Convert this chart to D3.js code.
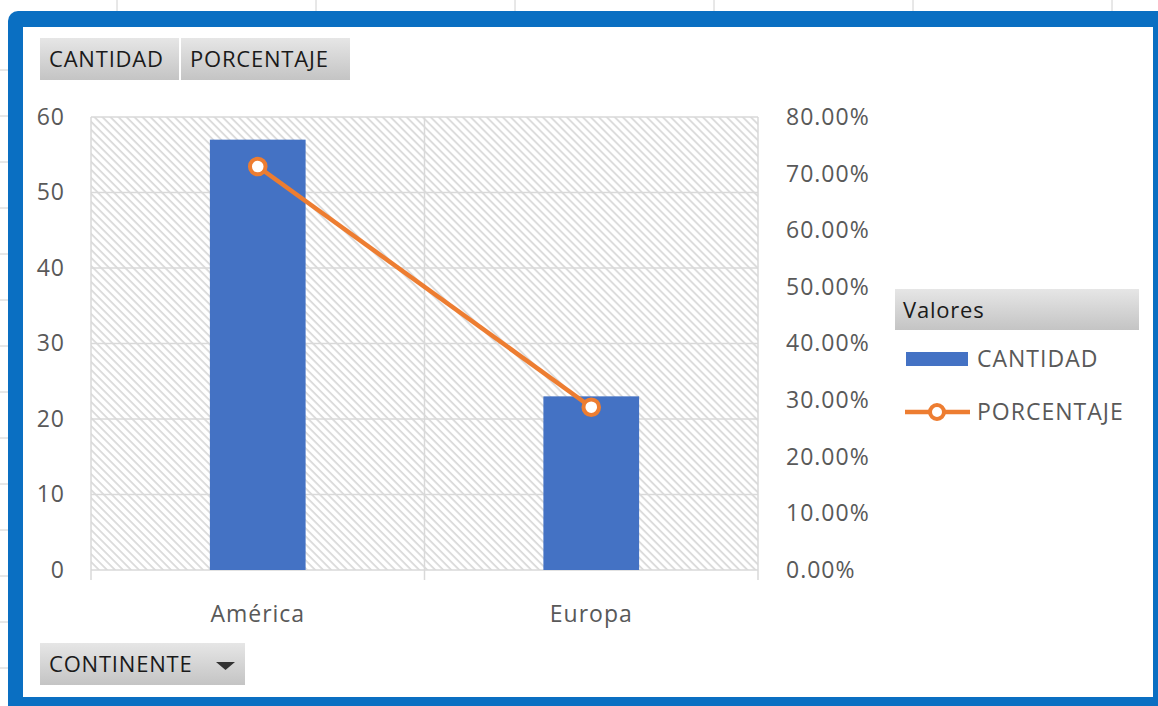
<!DOCTYPE html>
<html>
<head>
<meta charset="utf-8">
<script src="https://cdn.jsdelivr.net/npm/d3@7"></script>
<style>
  body { margin: 0; background: #fff; }
  svg { display: block; }
  text { font-family: "Segoe UI", "Open Sans", "Noto Sans", sans-serif; }
</style>
</head>
<body>
<svg id="chart"></svg>
<script>
const categories = ["América", "Europa"];
const cantidad = [57, 23];
const porcentaje = [0.7125, 0.2875];
const leftTicks = [0, 10, 20, 30, 40, 50, 60];
const rightTicks = [0, 0.1, 0.2, 0.3, 0.4, 0.5, 0.6, 0.7, 0.8];
const seriesNames = ["CANTIDAD", "PORCENTAJE"];
const filterName = "CONTINENTE";
const legendTitle = "Valores";

const W = 1158, H = 706;
const BLUE = "#4472c4";
const ORANGE = "#ed7d31";
const GRID = "#d9d9d9";
const LABEL = "#595959";

const svg = d3.select("#chart").attr("width", W).attr("height", H);

const defs = svg.append("defs");
const grad = defs.append("linearGradient")
  .attr("id", "btn").attr("x1", 0).attr("y1", 0).attr("x2", 0).attr("y2", 1);
grad.append("stop").attr("offset", "0%").attr("stop-color", "#e6e6e6");
grad.append("stop").attr("offset", "100%").attr("stop-color", "#c4c4c4");

const hatch = defs.append("pattern")
  .attr("id", "hatch").attr("width", 5.66).attr("height", 8)
  .attr("patternUnits", "userSpaceOnUse")
  .attr("patternTransform", "rotate(-45)");
hatch.append("rect").attr("width", 5.66).attr("height", 8).attr("fill", "#fff");
hatch.append("line")
  .attr("x1", 1).attr("y1", 0).attr("x2", 1).attr("y2", 8)
  .attr("stroke", "#dadada").attr("stroke-width", 1.8);

// spreadsheet grid stubs behind the frame
for (let gx = 117; gx < W; gx += 199) {
  svg.append("line").attr("x1", gx).attr("x2", gx).attr("y1", 0).attr("y2", 12)
    .attr("stroke", "#d0d0d0");
}
for (let gy = 70; gy < H; gy += 46) {
  svg.append("line").attr("x1", 0).attr("x2", 8).attr("y1", gy).attr("y2", gy)
    .attr("stroke", "#d0d0d0");
}

// blue selection frame
svg.append("rect")
  .attr("x", 8).attr("y", 11).attr("width", W + 20).attr("height", H + 20)
  .attr("rx", 10).attr("fill", "#0a6fc2");
svg.append("rect")
  .attr("x", 23).attr("y", 27).attr("width", 1130).attr("height", 670)
  .attr("fill", "#fff");

function button(bx, by, w, h, label) {
  const g = svg.append("g");
  g.append("rect").attr("x", bx).attr("y", by).attr("width", w).attr("height", h)
    .attr("fill", "url(#btn)");
  g.append("text").attr("x", bx + 9).attr("y", by + h / 2)
    .attr("dy", "0.35em").attr("font-size", 22).attr("letter-spacing", 0.8)
    .attr("fill", "#1a1a1a")
    .text(label);
  return g;
}

button(40, 38, 139, 42, seriesNames[0]);
button(181, 38, 169, 42, seriesNames[1]);
const cb = button(40, 643, 205, 42, filterName);
cb.append("path").attr("d", "M216,662 L235,662 L225.5,670 Z").attr("fill", "#333");

// plot
const pLeft = 91, pRight = 758, pTop = 117, pBottom = 570;

const x = d3.scaleBand().domain(categories).range([pLeft, pRight]).padding(0);
const yL = d3.scaleLinear().domain([0, 60]).range([pBottom, pTop]);
const yR = d3.scaleLinear().domain([0, 0.8]).range([pBottom, pTop]);

svg.append("rect")
  .attr("x", pLeft).attr("y", pTop).attr("width", pRight - pLeft).attr("height", pBottom - pTop)
  .attr("fill", "url(#hatch)");

svg.append("g").selectAll("line").data(leftTicks).join("line")
  .attr("x1", pLeft).attr("x2", pRight)
  .attr("y1", d => yL(d)).attr("y2", d => yL(d))
  .attr("stroke", GRID).attr("stroke-width", 1.5);

const vlines = [pLeft].concat(categories.map(c => x(c) + x.bandwidth()));
svg.append("g").selectAll("line").data(vlines).join("line")
  .attr("x1", d => d).attr("x2", d => d)
  .attr("y1", pTop).attr("y2", pBottom + 10)
  .attr("stroke", GRID).attr("stroke-width", 1.5);

function styleAxisText(g) {
  g.select(".domain").remove();
  g.selectAll("text").attr("font-size", 23).attr("letter-spacing", 1).attr("fill", LABEL);
}

svg.append("g")
  .attr("transform", `translate(${pLeft - 26},0)`)
  .call(d3.axisLeft(yL).tickValues(leftTicks).tickSize(0).tickPadding(0))
  .call(styleAxisText);

svg.append("g")
  .attr("transform", `translate(${pRight + 28},0)`)
  .call(d3.axisRight(yR).tickValues(rightTicks).tickFormat(d3.format(".2%")).tickSize(0).tickPadding(0))
  .call(styleAxisText);

svg.append("g")
  .attr("transform", `translate(0,${pBottom + 36})`)
  .call(d3.axisBottom(x).tickSize(0).tickPadding(0))
  .call(styleAxisText);

const barW = x.bandwidth() * 0.287;
svg.append("g").selectAll("rect").data(categories).join("rect")
  .attr("x", d => x(d) + x.bandwidth() / 2 - barW / 2)
  .attr("width", barW)
  .attr("y", (d, i) => yL(cantidad[i]))
  .attr("height", (d, i) => pBottom - yL(cantidad[i]))
  .attr("fill", BLUE);

const line = d3.line()
  .x((d, i) => x(categories[i]) + x.bandwidth() / 2)
  .y(d => yR(d));
svg.append("path").datum(porcentaje)
  .attr("d", line).attr("fill", "none")
  .attr("stroke", ORANGE).attr("stroke-width", 4.5);
svg.append("g").selectAll("circle").data(porcentaje).join("circle")
  .attr("cx", (d, i) => x(categories[i]) + x.bandwidth() / 2)
  .attr("cy", d => yR(d))
  .attr("r", 7.8).attr("fill", "#fff")
  .attr("stroke", ORANGE).attr("stroke-width", 4);

// legend
const lg = svg.append("g");
lg.append("rect").attr("x", 895).attr("y", 289).attr("width", 244).attr("height", 41)
  .attr("fill", "url(#btn)");
lg.append("text").attr("x", 903).attr("y", 310).attr("dy", "0.35em")
  .attr("font-size", 22).attr("letter-spacing", 0.8).attr("fill", "#1a1a1a").text(legendTitle);

lg.append("rect").attr("x", 906).attr("y", 352).attr("width", 62).attr("height", 14)
  .attr("fill", BLUE);
lg.append("text").attr("x", 977).attr("y", 359).attr("dy", "0.35em")
  .attr("font-size", 23).attr("letter-spacing", 1).attr("fill", LABEL).text(seriesNames[0]);

lg.append("line").attr("x1", 905).attr("x2", 970).attr("y1", 412).attr("y2", 412)
  .attr("stroke", ORANGE).attr("stroke-width", 4.5);
lg.append("circle").attr("cx", 937).attr("cy", 412).attr("r", 7)
  .attr("fill", "#fff").attr("stroke", ORANGE).attr("stroke-width", 4);
lg.append("text").attr("x", 977).attr("y", 412).attr("dy", "0.35em")
  .attr("font-size", 23).attr("letter-spacing", 1).attr("fill", LABEL).text(seriesNames[1]);
</script>
</body>
</html>
